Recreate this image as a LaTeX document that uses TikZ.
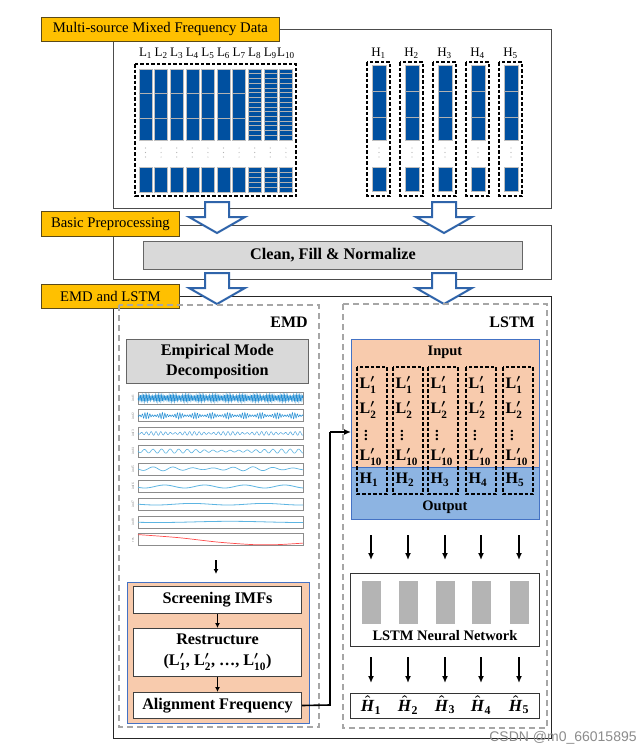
\documentclass[tikz,border=0pt]{standalone}
\usepackage{amsmath}
\usepackage{fontspec}
\setmainfont{Liberation Serif}
\newfontfamily\wmfont{Liberation Sans}
\usetikzlibrary{arrows.meta}
\definecolor{gold}{HTML}{FFC000}
\definecolor{goldborder}{HTML}{5A4A1A}
\definecolor{barblue}{HTML}{0050A0}
\definecolor{arrblue}{HTML}{2F64AA}
\definecolor{peach}{HTML}{F8CBAD}
\definecolor{lblue}{HTML}{8DB4E2}
\definecolor{bdblue}{HTML}{4472C4}
\definecolor{grayfill}{HTML}{D9D9D9}
\definecolor{wave}{HTML}{1F8CD3}
\definecolor{wavelight}{HTML}{5DB5E2}
\definecolor{nngray}{HTML}{B4B4B4}
\newcommand{\LPr}[1]{L$'_{\text{#1}}$}
\newcommand{\HHat}[1]{$\hat{\textbf{\textit{H}}}_{\text{#1}}$}
\begin{document}
\begin{tikzpicture}[x=1pt,y=-1pt,
  lbl/.style={draw=goldborder, line width=0.8pt, fill=gold, inner sep=0pt, anchor=north west, font=\fontsize{14.7}{16}\selectfont},
  outer/.style={draw=black!70, line width=0.8pt},
  bararrow/.style={draw=arrblue, line width=2pt, fill=white, line join=miter},
  graybox/.style={draw=black!60, fill=grayfill, line width=0.8pt, inner sep=0pt, anchor=north west},
  panel/.style={draw=black!35, line width=1.4pt, dash pattern=on 6pt off 4pt},
  blackdash/.style={draw=black, line width=1.3pt, dash pattern=on 3.5pt off 2pt},
  whitebox/.style={draw=black!75, fill=white, line width=1pt, inner sep=0pt, anchor=north west, align=center, font=\bfseries\fontsize{16.2}{18}\selectfont},
  arr/.style={-{Latex[length=7pt,width=6pt]}, line width=1.6pt},
  smallarr/.style={-{Latex[length=5pt,width=5pt]}, line width=1.4pt},
  frame/.style={draw=black!45, line width=0.6pt},
  toptxt/.style={font=\fontsize{13}{15}\selectfont, inner sep=0pt},
  coltxt/.style={font=\bfseries\boldmath\fontsize{16}{18}\selectfont, inner sep=0pt, anchor=west},
  ttl/.style={font=\bfseries\fontsize{16}{18}\selectfont, inner sep=0pt}
]
\useasboundingbox (0,0) rectangle (639,756);
\fill[white] (0,0) rectangle (639,756);

% ---------- outer boxes ----------
\draw[outer] (113,29) rectangle (551,208);
\draw[outer] (113,225) rectangle (551,279);
\draw[outer, draw=black!85] (113,296) rectangle (551,738);

% ---------- L bars ----------
\foreach \i in {0,...,9} {
  \pgfmathsetmacro\bx{139+\i*15.6}
  \pgfmathtruncatemacro\n{\i+1}
  \fill[barblue] (\bx,69) rectangle ++(13,71);
  \fill[barblue] (\bx,167) rectangle ++(13,25);
  \draw[black!25, line width=0.6pt] (\bx,69) rectangle ++(13,71);
  \draw[black!25, line width=0.6pt] (\bx,167) rectangle ++(13,25);
  \foreach \d in {148,152.5,157} \fill[black!30] (\bx+6.5,\d) circle (0.6);
  \node[toptxt] (L\n) at (\bx+6.5,53) {L\textsubscript{\n}};
  \ifnum\i<7
    \draw[black!30, line width=0.8pt] (\bx,93) -- ++(13,0) (\bx,118) -- ++(13,0);
  \else
    \foreach \k in {1,...,14} \draw[black!30, line width=0.6pt] (\bx,69+\k*4.73) -- ++(13,0);
    \foreach \k in {1,...,4} \draw[black!30, line width=0.6pt] (\bx,167+\k*5) -- ++(13,0);
  \fi
}
\draw[blackdash] (135,64) rectangle (296,196);

% ---------- H bars ----------
\foreach \j in {0,...,4} {
  \pgfmathsetmacro\hx{367+\j*33}
  \pgfmathtruncatemacro\n{\j+1}
  \fill[barblue] (\hx+5,65) rectangle ++(14,75);
  \fill[barblue] (\hx+5,167) rectangle ++(14,24);
  \draw[black!25, line width=0.6pt] (\hx+5,65) rectangle ++(14,75);
  \draw[black!25, line width=0.6pt] (\hx+5,167) rectangle ++(14,24);
  \draw[black!30, line width=0.8pt] (\hx+5,91) -- ++(14,0) (\hx+5,117) -- ++(14,0);
  \foreach \d in {148,152.5,157} \fill[black!30] (\hx+12,\d) circle (0.6);
  \draw[blackdash] (\hx,62) rectangle ++(23,134);
  \node[toptxt] (H\n) at (\hx+11.5,53) {H\textsubscript{\n}};
}

% ---------- preprocessing ----------
\node[graybox, minimum width=379pt, minimum height=28pt, font=\bfseries\fontsize{16.2}{18}\selectfont] (clean) at (143,241) {Clean, Fill \& Normalize};

% ---------- block arrows ----------
\foreach \cx in {217,444} {
  \foreach \t in {202,273} {
    \draw[bararrow] (\cx-12,\t) -- (\cx+12,\t) -- (\cx+12,\t+15) -- (\cx+28,\t+15) -- (\cx,\t+31) -- (\cx-28,\t+15) -- (\cx-12,\t+15) -- cycle;
  }
}

% ---------- stage labels ----------
\node[lbl, minimum width=238pt, minimum height=24pt] (lab1) at (41,17) {Multi-source Mixed Frequency Data};
\node[lbl, minimum width=138pt, minimum height=25pt] (lab2) at (41,211) {Basic Preprocessing};
\node[lbl, minimum width=138pt, minimum height=24pt] (lab3) at (41,284) {EMD and LSTM};

% ---------- EMD panel ----------
\draw[panel] (119,305) rectangle (319,727);
\node[ttl, anchor=east] (emdt) at (308,322) {EMD};
\node[graybox, minimum width=182pt, minimum height=44pt, align=center, font=\bfseries\fontsize{16.2}{19.5}\selectfont] (emdbox) at (126,339) {Empirical Mode\\Decomposition};

% IMF frames
\foreach \k/\nm in {0/imf1,1/imf2,2/imf3,3/imf4,4/imf5,5/imf6,6/imf7,7/imf8,8/res.} {
  \pgfmathsetmacro\ty{392+\k*17.7}
  \draw[frame] (138,\ty) rectangle ++(165,12);
  \node[font=\fontsize{3.5}{4}\selectfont, text=black!50, rotate=90, inner sep=0pt] (lb\k) at (133,\ty+6) {\nm};
}
\begin{scope}[shift={(138,398)}]
  \draw[wave, line width=0.5pt] plot[domain=0:165, samples=600] (\x,{(2.3+1.6*abs(sin(\x*13)))*sin(mod(\x,1.5)*240)});
\end{scope}
\begin{scope}[shift={(138,415.7)}]
  \draw[wave, line width=0.5pt] plot[domain=0:165, samples=500] (\x,{(0.8+2.4*abs(sin(\x*11))^3)*sin(mod(\x,2.5)*144)});
\end{scope}
\begin{scope}[shift={(138,433.4)}]
  \draw[wave!80, line width=0.5pt] plot[domain=0:165, samples=400] (\x,{(0.7+1.2*abs(sin(\x*5)))*sin(\x*75)});
\end{scope}
\begin{scope}[shift={(138,451.1)}]
  \draw[wavelight, line width=0.6pt] plot[domain=0:165, samples=300] (\x,{(1.5+0.6*sin(\x*3))*sin(\x*42)});
\end{scope}
\begin{scope}[shift={(138,468.8)}]
  \draw[wavelight, line width=0.7pt] plot[domain=0:165, samples=200, smooth] (\x,{(1.4+0.6*sin(\x*4))*sin(\x*18)});
\end{scope}
\begin{scope}[shift={(138,486.5)}]
  \draw[wavelight, line width=0.8pt] plot[domain=0:165, samples=100, smooth] (\x,{1.5*sin(\x*9+30)});
\end{scope}
\begin{scope}[shift={(138,504.2)}]
  \draw[wavelight, line width=0.8pt] plot[domain=0:165, samples=80, smooth] (\x,{0.8*sin(\x*5)});
\end{scope}
\begin{scope}[shift={(138,521.9)}]
  \draw[wavelight, line width=0.8pt] plot[domain=0:165, samples=60, smooth] (\x,{0.6*sin(\x*2.5+40)});
\end{scope}
\begin{scope}[shift={(138,539.6)}]
  \draw[red!70, line width=0.7pt] plot[smooth] coordinates {(0,-5) (40,-2) (80,2.5) (115,5) (140,5) (165,3.5)};
\end{scope}

\coordinate (emdarrtop) at (216,560);
\coordinate (emdarrbot) at (216,574);
\draw[smallarr] (emdarrtop) -- (emdarrbot);

\fill[peach] (127,582) rectangle (309,723);
\draw[bdblue, line width=0.6pt] (127,582) rectangle (309,723);
\node[whitebox, minimum width=168pt, minimum height=27pt] (screen) at (133,586) {Screening IMFs};
\node[whitebox, minimum width=168pt, minimum height=48pt, font=\bfseries\boldmath\fontsize{16.2}{21}\selectfont] (restr) at (133,628) {Restructure\\(\LPr{1}, \LPr{2}, \dots, \LPr{10})};
\node[whitebox, minimum width=168pt, minimum height=26pt] (align) at (133,692) {Alignment Frequency};
\draw[smallarr] (screen.south) -- (restr.north);
\draw[smallarr] (restr.south) -- (align.north);

% ---------- LSTM panel ----------
\draw[panel] (343,304) rectangle (547,728);
\node[ttl, anchor=east] (lstmt) at (535,322) {LSTM};
\fill[peach] (351,339) rectangle (539,467);
\fill[lblue] (351,467) rectangle (539,519);
\draw[bdblue, line width=0.6pt] (351,339) rectangle (539,519) (351,467) -- (539,467);
\node[font=\bfseries\fontsize{14.5}{16}\selectfont, inner sep=0pt] (inp) at (445,352) {Input};
\node[font=\bfseries\fontsize{14.5}{16}\selectfont, inner sep=0pt] (outp) at (445,507) {Output};
\coordinate (lstmin) at (351,432);

\foreach \cx/\n in {357/1,393/2,428/3,466/4,503/5} {
  \draw[blackdash] (\cx,367) rectangle ++(30,127);
  \node[coltxt] (a\n) at (\cx+2.5,385) {\LPr{1}};
  \node[coltxt] (b\n) at (\cx+2.5,410) {\LPr{2}};
  \node[font=\bfseries\fontsize{15}{16}\selectfont, inner sep=0pt] (c\n) at (\cx+9,432) {$\vdots$};
  \node[coltxt] (d\n) at (\cx+2.5,457) {\LPr{10}};
  \node[coltxt] (e\n) at (\cx+2.5,480) {H\textsubscript{\n}};
}

\draw[line width=1.6pt] (align.east) -- (330,705) -- (330,432);
\draw[arr] (330,432) -- (lstmin);

\node[draw=black!80, line width=1pt, minimum width=189pt, minimum height=73pt, anchor=north west, inner sep=0pt] (nn) at (350,573) {};
\node[font=\bfseries\fontsize{14.5}{16}\selectfont, inner sep=0pt] (nnt) at (445,636) {LSTM Neural Network};
\node[draw=black!80, line width=1pt, minimum width=189pt, minimum height=25pt, anchor=north west, inner sep=0pt] (outbox) at (350,693) {};

\foreach \cx/\n in {371/1,408/2,445/3,481/4,519/5} {
  \coordinate (t\n) at (\cx,535);
  \coordinate (u\n) at (\cx,560);
  \draw[arr] (t\n) -- (u\n);
  \fill[nngray] (\cx-9.5,581) rectangle ++(19,43);
  \coordinate (v\n) at (\cx,657);
  \coordinate (w\n) at (\cx,683);
  \draw[arr] (v\n) -- (w\n);
  \node[font=\bfseries\boldmath\fontsize{17}{18}\selectfont, inner sep=0pt] (hh\n) at (\cx,705) {\HHat{\n}};
}

% watermark
\node[font=\wmfont\fontsize{14}{16}\selectfont, text=black!45, inner sep=0pt] (wm) at (563,738) {CSDN @m0\_66015895};
\end{tikzpicture}
\end{document}
